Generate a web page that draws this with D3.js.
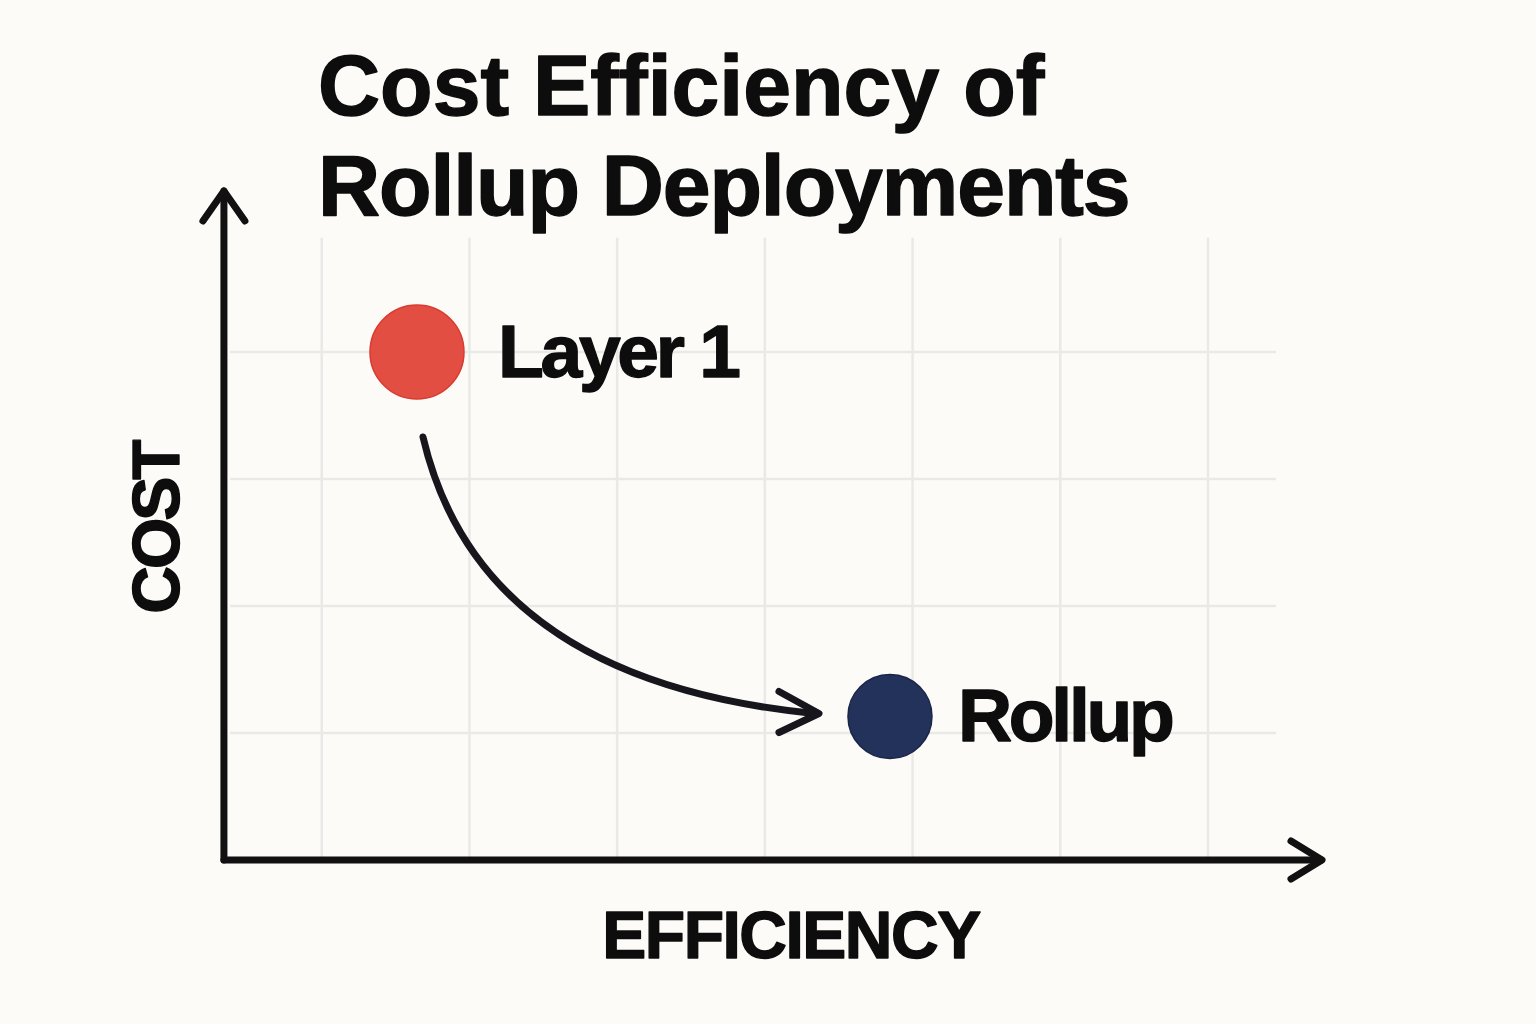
<!DOCTYPE html>
<html>
<head>
<meta charset="utf-8">
<script src="https://cdn.jsdelivr.net/npm/d3@7"></script>
<style>
  html, body { margin: 0; padding: 0; background: #fcfbf8; }
  svg { display: block; }
  text { font-family: "Liberation Sans", Arial, sans-serif; font-weight: bold; fill: #0d0d0d; stroke: #0d0d0d; stroke-width: 1.4; stroke-linejoin: round; }
</style>
</head>
<body>
<svg id="chart" width="1536" height="1024"></svg>
<script>
// ---- data ----
const titleLines = ["Cost Efficiency of", "Rollup Deployments"];
const categories = ["Layer 1", "Rollup"];
const efficiency = [1.645, 4.847];
const cost = [4.0, 1.13];
const pointColors = ["#e34e43", "#22325a"];
const pointStrokes = ["#d93a31", "#1a2548"];
const xGrid = [1, 2, 3, 4, 5, 6, 7];
const yGrid = [1, 2, 3, 4];
const xLabel = "EFFICIENCY";
const yLabel = "COST";

// ---- scales ----
const x = d3.scaleLinear().domain([0, 7]).range([174, 1208]);
const y = d3.scaleLinear().domain([0, 5]).range([860, 225]);

const svg = d3.select("#chart");
svg.append("rect").attr("width", 1536).attr("height", 1024).attr("fill", "#fcfbf8");

// grid
const grid = svg.append("g").attr("stroke", "#e9e9e7").attr("stroke-width", 2.5);
grid.selectAll("line.v").data(xGrid).join("line")
  .attr("class", "v")
  .attr("x1", d => x(d)).attr("x2", d => x(d))
  .attr("y1", y(4.9)).attr("y2", y(0));
grid.selectAll("line.h").data(yGrid).join("line")
  .attr("class", "h")
  .attr("x1", x(0.38)).attr("x2", 1276)
  .attr("y1", d => y(d)).attr("y2", d => y(d));

// axes
const ax = svg.append("g").attr("stroke", "#111").attr("stroke-width", 7)
  .attr("fill", "none").attr("stroke-linecap", "round").attr("stroke-linejoin", "round");
const x0 = x(0.338), y0 = y(0);
ax.append("path").attr("d", `M${x0},${y0} L${x0},191`);
ax.append("path").attr("d", `M${x0 - 21},221 L${x0},191 L${x0 + 21},221`);
ax.append("path").attr("d", `M${x0},${y0} L1321,${y0}`);
ax.append("path").attr("d", `M1291,${y0 - 19} L1322,${y0} L1291,${y0 + 19}`);

// title
svg.append("text").attr("x", 318).attr("y", 115).attr("font-size", 86)
  .text(titleLines[0]);
svg.append("text").attr("x", 318).attr("y", 215).attr("font-size", 86)
  .attr("letter-spacing", -1.1).text(titleLines[1]);

// axis labels
svg.append("text").attr("x", 791).attr("y", 958).attr("font-size", 66)
  .attr("text-anchor", "middle").attr("letter-spacing", -1.5).text(xLabel);
svg.append("text").attr("transform", "translate(179,528) rotate(-90)")
  .attr("font-size", 66).attr("text-anchor", "middle").attr("letter-spacing", -3)
  .text(yLabel);

// curved arrow from Layer 1 to Rollup
const p0 = [x(efficiency[0]) + 6, y(cost[0]) + 85];
const p2 = [x(efficiency[1]) - 71, y(cost[1]) - 3];
const c = [x(efficiency[0]) + 63, y(cost[1]) - 36];
const arrow = svg.append("g").attr("stroke", "#16161c").attr("stroke-width", 7)
  .attr("fill", "none").attr("stroke-linecap", "round").attr("stroke-linejoin", "round");
const pth = d3.path();
pth.moveTo(p0[0], p0[1]);
pth.quadraticCurveTo(c[0], c[1], p2[0] - 5, p2[1]);
arrow.append("path").attr("d", pth.toString());
arrow.append("path").attr("d", `M${p2[0] - 40},${p2[1] - 22} L${p2[0]},${p2[1]} L${p2[0] - 40},${p2[1] + 19}`);

// points
const radii = [47, 42];
svg.selectAll("circle.pt").data(categories).join("circle")
  .attr("class", "pt")
  .attr("cx", (d, i) => x(efficiency[i]))
  .attr("cy", (d, i) => y(cost[i]))
  .attr("r", (d, i) => radii[i])
  .attr("fill", (d, i) => pointColors[i])
  .attr("stroke", (d, i) => pointStrokes[i])
  .attr("stroke-width", 1.5);

// point labels
const labelDx = [81, 68];
svg.selectAll("text.lbl").data(categories).join("text")
  .attr("class", "lbl")
  .attr("x", (d, i) => x(efficiency[i]) + labelDx[i])
  .attr("y", (d, i) => y(cost[i]) + 25)
  .attr("font-size", 75)
  .attr("letter-spacing", -3.3)
  .text(d => d);
</script>
</body>
</html>
